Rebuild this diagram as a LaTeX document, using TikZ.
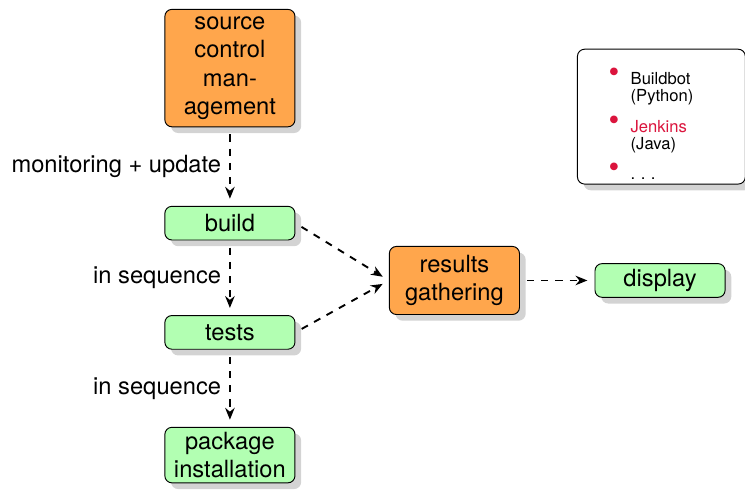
\documentclass[tikz,border=0pt]{standalone}
\usepackage{fontspec}
\setmainfont{TeX Gyre Heros}
\usetikzlibrary{arrows.meta,shadows}
\definecolor{bulletred}{rgb}{0.86,0.08,0.24}
\newcommand\toolbullet{\makebox[3pt]{\smash{\textcolor{bulletred}{\raisebox{0.8pt}{\fontsize{13}{13}\selectfont\textbullet}}}}}

\begin{document}
\begin{tikzpicture}[
	box/.style={draw,rounded corners=3pt,minimum width=1.93cm,align=center,inner ysep=2pt,drop shadow={opacity=0.35}},
	stage/.style={box,fill=green!30,minimum height=0.5cm},
	tool/.style={box,fill=orange!70,inner ysep=3pt},
	flow/.style={thick,dashed,-{Stealth[length=5pt,width=4pt]},shorten >=3pt,shorten <=3pt}]
	\useasboundingbox (0,0) rectangle (11.05,7.27);
	% pipeline
	\node[tool] (scm) at (3.41,6.26) {source\\control\\man-\\agement};
	\node[stage] (build) at (3.41,3.96) {build};
	\node[stage] (tests) at (3.41,2.34) {tests};
	\node[stage] (pkg) at (3.41,0.52) {package\\installation};
	\node[tool,minimum height=1.01cm] (results) at (6.74,3.11) {results\\gathering};
	\node[stage] (display) at (9.79,3.11) {display};
	% tools
	\node[box,fill=white,minimum width=2.49cm,minimum height=2cm] (tools) at (9.81,5.54) {\fontsize{7}{6.5}\selectfont
		\raisebox{-5pt}[\height][\depth]{\begin{tabular}{@{}c@{\hspace{5.5pt}}l@{\hspace{8pt}}}
		\toolbullet & Buildbot\\ & (Python)\\[6.2pt]
		\toolbullet & \textcolor{bulletred}{Jenkins}\\ & (Java)\\[6.2pt]
		\toolbullet & .\,\,.\,\,.
		\end{tabular}}};
	\draw[flow] (scm) -- node[left]{monitoring + update} (build);
	\draw[flow] (build) -- node[left]{in sequence} (tests);
	\draw[flow] (tests) -- node[left]{in sequence} (pkg);
	\draw[flow] (build.east) -- (results.west);
	\draw[flow] (tests.east) -- (results.west);
	\draw[flow] (results) -- (display);
\end{tikzpicture}
\end{document}
